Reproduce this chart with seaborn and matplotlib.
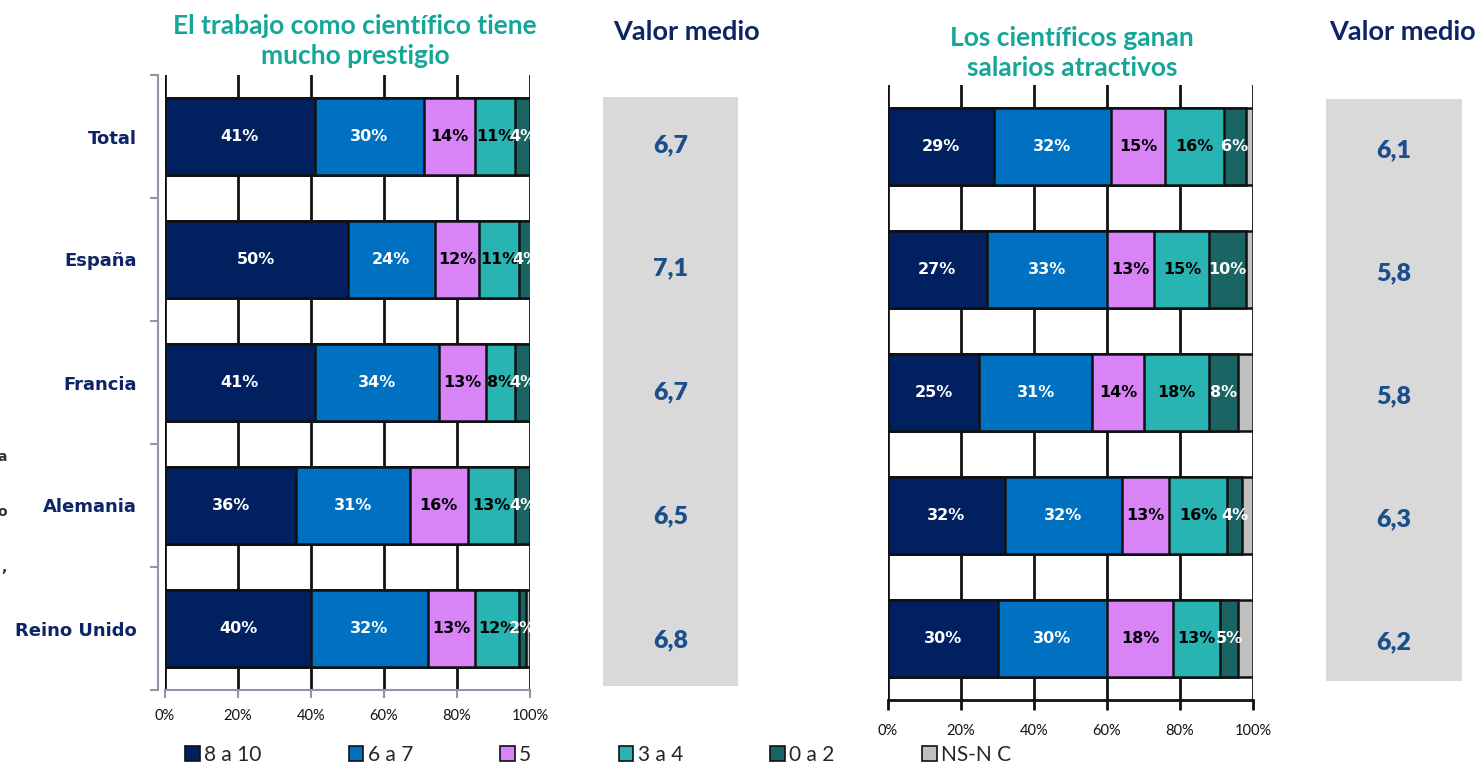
import matplotlib
matplotlib.use("Agg")
import matplotlib.pyplot as plt
from matplotlib.patches import Patch
import numpy as np
import pandas as pd
import seaborn as sns

# ---- data -------------------------------------------------------------
paises = ["Total", "España", "Francia", "Alemania", "Reino Unido"]
tramos = ["8 a 10", "6 a 7", "5", "3 a 4", "0 a 2", "NS-N C"]

# "El trabajo como científico tiene mucho prestigio" (%)
prestigio_8_10 = [41, 50, 41, 36, 40]
prestigio_6_7 = [30, 24, 34, 31, 32]
prestigio_5 = [14, 12, 13, 16, 13]
prestigio_3_4 = [11, 11, 8, 13, 12]
prestigio_0_2 = [4, 4, 4, 4, 2]
prestigio_nsnc = [0, 0, 0, 0, 1]
prestigio_media = [6.7, 7.1, 6.7, 6.5, 6.8]

# "Los científicos ganan salarios atractivos" (%)
salarios_8_10 = [29, 27, 25, 32, 30]
salarios_6_7 = [32, 33, 31, 32, 30]
salarios_5 = [15, 13, 14, 13, 18]
salarios_3_4 = [16, 15, 18, 16, 13]
salarios_0_2 = [6, 10, 8, 4, 5]
salarios_nsnc = [2, 2, 4, 3, 4]
salarios_media = [6.1, 5.8, 5.8, 6.3, 6.2]

# ---- style ------------------------------------------------------------
sns.set_theme(style="white")
plt.rcParams["font.family"] = ["DejaVu Sans"]

colores = ["#002060", "#0070C0", "#D884F7", "#29B4B4", "#1A6464", "#C0C0C0"]
color_etiqueta = ["white", "white", "black", "black", "white", None]
TEAL = "#15A698"
NAVY = "#0D2466"
AZUL_MEDIA = "#1B4F8C"
W, H = 1483, 779


def fx(px):
    return px / W


def fy(px):
    return 1 - px / H


fig = plt.figure(figsize=(W / 100, H / 100), dpi=100)


def barras_apiladas(ax, series, lw_grid=2.0):
    vals = np.array(series, dtype=float)
    acum = np.cumsum(vals, axis=0)
    # widest first so each narrower cumulative bar sits on top
    for k in reversed(range(len(series))):
        df = pd.DataFrame({"pais": paises, "acum": acum[k]})
        sns.barplot(data=df, x="acum", y="pais", orient="h", color=colores[k],
                    saturation=1, width=0.62, edgecolor="#111111", linewidth=1.8,
                    ax=ax, zorder=3)
    for k in range(len(series)):
        if color_etiqueta[k] is None:
            continue
        for i, v in enumerate(series[k]):
            ax.text(acum[k][i] - v / 2, i, f"{v}%", ha="center", va="center",
                    fontsize=11.5, fontweight="bold", color=color_etiqueta[k],
                    zorder=5)
    ax.set_xlim(0, 100)
    ax.set_ylim(len(paises) - 0.5, -0.5)
    ax.set_xlabel("")
    ax.set_ylabel("")
    ax.set_xticks(np.arange(0, 101, 20))
    ax.set_xticklabels([f"{t}%" for t in range(0, 101, 20)],
                       family="Lato", fontsize=10.5, color="#111111")
    ax.xaxis.grid(True, color="#111111", linewidth=lw_grid, zorder=0)
    ax.yaxis.grid(False)
    ax.set_axisbelow(True)
    for s in ["top", "right"]:
        ax.spines[s].set_visible(False)


# ---- left chart: prestigio --------------------------------------------
ax1 = fig.add_axes([fx(165), fy(690), fx(365), (690 - 75) / H])
barras_apiladas(ax1, [prestigio_8_10, prestigio_6_7, prestigio_5,
                      prestigio_3_4, prestigio_0_2, prestigio_nsnc])
gris_eje = "#8C96A8"
ax1.spines["left"].set_position(("outward", 5))
ax1.spines["left"].set_color(gris_eje)
ax1.spines["left"].set_linewidth(1.5)
ax1.spines["bottom"].set_color(gris_eje)
ax1.spines["bottom"].set_linewidth(1.5)
ax1.tick_params(axis="x", direction="out", length=6, width=1.5, color=gris_eje,
                bottom=True, pad=8)
ax1.set_yticks(np.arange(-0.5, len(paises), 1.0), minor=True)
ax1.tick_params(axis="y", which="minor", direction="out", length=6, width=1.5,
                color=gris_eje, left=True)
ax1.tick_params(axis="y", which="major", length=0, pad=15)
ax1.set_yticklabels(paises, fontsize=13, fontweight="bold", color=NAVY)

# ---- right chart: salarios --------------------------------------------
ax2 = fig.add_axes([fx(888), fy(700), fx(365), (700 - 85) / H])
barras_apiladas(ax2, [salarios_8_10, salarios_6_7, salarios_5,
                      salarios_3_4, salarios_0_2, salarios_nsnc])
ax2.spines["left"].set_visible(False)
ax2.spines["bottom"].set_color("#111111")
ax2.spines["bottom"].set_linewidth(2)
ax2.tick_params(axis="x", direction="out", length=7, width=2, color="#111111",
                bottom=True, pad=10)
ax2.set_yticks([])

# ---- "Valor medio" panels ---------------------------------------------
def panel_media(left, top, right, bottom, y0, paso, medias):
    axm = fig.add_axes([fx(left), fy(bottom), fx(right - left), (bottom - top) / H])
    axm.set_facecolor("#D9D9D9")
    for s in axm.spines.values():
        s.set_visible(False)
    axm.set_xticks([])
    axm.set_yticks([])
    axm.set_xlim(0, 1)
    axm.set_ylim((bottom - y0) / paso, (top - y0) / paso)
    for i, m in enumerate(medias):
        axm.text(0.5, i, f"{m:.1f}".replace(".", ","), ha="center", va="center",
                 family="Lato", fontsize=18, fontweight="heavy", color=AZUL_MEDIA)
    return axm


panel_media(603, 97, 738, 686, 145, 123.75, prestigio_media)
panel_media(1326, 99, 1462, 681, 150, 123.0, salarios_media)

# ---- titles -----------------------------------------------------------
fig.text(fx(355), fy(41), "El trabajo como científico tiene\nmucho prestigio",
         ha="center", va="center", family="Lato", fontsize=19,
         fontweight="bold", color=TEAL, linespacing=1.3)
fig.text(fx(1072), fy(53), "Los científicos ganan\nsalarios atractivos",
         ha="center", va="center", family="Lato", fontsize=19,
         fontweight="bold", color=TEAL, linespacing=1.3)
fig.text(fx(686), fy(32), "Valor medio", ha="center", va="center",
         family="Lato", fontsize=19.5, fontweight="bold", color=NAVY)
fig.text(fx(1402), fy(32), "Valor medio", ha="center", va="center",
         family="Lato", fontsize=19.5, fontweight="bold", color=NAVY)

# clipped fragments of a side note at the left margin
for txt, ypx in [("a", 457), ("o", 512), (",", 568)]:
    fig.text(fx(7), fy(ypx), txt, ha="right", va="center", fontsize=10,
             fontweight="bold", color="#333333")

# ---- legend -----------------------------------------------------------
handles = [Patch(facecolor=c, edgecolor="#111111", linewidth=1.2) for c in colores]
fig.legend(handles, tramos, loc="center", bbox_to_anchor=(fx(598), fy(755)),
           ncol=6, frameon=False, handlelength=0.7, handleheight=0.7,
           handletextpad=0.2, columnspacing=4.2,
           prop={"family": "Lato", "size": 15})

fig.savefig("out.png", dpi=100)
